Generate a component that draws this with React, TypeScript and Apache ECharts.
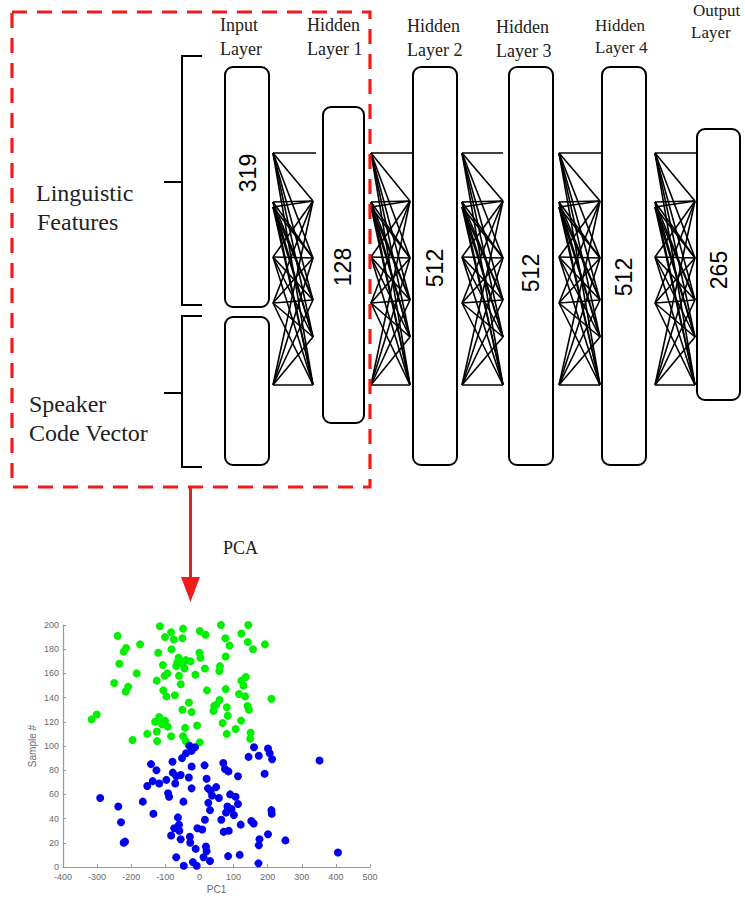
import React, { useEffect, useRef } from "react";
import * as echarts from "echarts";

// ---- Data ----
const layerTitles: string[][] = [
  ["Input", "Layer"],
  ["Hidden", "Layer 1"],
  ["Hidden", "Layer 2"],
  ["Hidden", "Layer 3"],
  ["Hidden", "Layer 4"],
  ["Output", "Layer"],
];
const layerSizes = ["319", "128", "512", "512", "512", "265"];
const inputGroups = [["Linguistic", "Features"], ["Speaker", "Code Vector"]];
const arrowLabel = "PCA";

const xTicks = { min: -400, max: 500, interval: 100 };
const yTicks = { min: 0, max: 200, interval: 20 };
const xName = "PC1";
const yName = "Sample #";

// speaker group 1 (green): [PC1, sample #]
const greenPoints: number[][] = [
  [-240, 191], [-116, 199], [-48, 197], [-83, 194], [-101, 190], [-75, 188], [-50, 189],
  [63, 200], [143, 200], [1, 195], [18, 192], [123, 193], [76, 189], [88, 183], [142, 186],
  [157, 180], [192, 184], [-215, 181], [-222, 178], [-174, 184], [-235, 168], [-184, 160],
  [-250, 152], [-209, 149], [-216, 145], [-82, 180], [-121, 177], [-61, 173], [0, 177],
  [3, 173], [-26, 170], [-65, 169], [-49, 168], [-44, 164], [-68, 166], [-107, 167],
  [16, 164], [60, 166], [58, 162], [77, 174], [-12, 159], [-94, 160], [-102, 158],
  [-125, 154], [-55, 151], [-106, 146], [-97, 141], [-72, 142], [22, 146], [77, 147],
  [123, 154], [136, 157], [129, 150], [116, 143], [134, 141], [211, 139], [-31, 136],
  [-50, 130], [-23, 128], [43, 133], [59, 138], [49, 134], [41, 129], [80, 132], [141, 133],
  [145, 130], [-316, 122], [-301, 126], [-118, 124], [-101, 121], [-130, 120], [-93, 116],
  [83, 125], [68, 119], [122, 121], [106, 114], [150, 111], [-7, 117], [-42, 115],
  [-125, 112], [-153, 110], [-83, 108], [-196, 105], [-124, 104], [-48, 108], [-40, 104],
  [1, 103], [-32, 101], [80, 110], [149, 106], [-110, 118], [-60, 158], [-40, 171],
];

// speaker group 2 (blue): [PC1, sample #]
const bluePoints: number[][] = [
  [-29, 100], [-13, 99], [-23, 96], [-39, 94], [-51, 90], [160, 99], [201, 98], [206, 94],
  [213, 89], [144, 91], [174, 92], [352, 88], [-142, 85], [-126, 80], [-79, 87], [15, 84],
  [70, 86], [75, 81], [85, 79], [113, 75], [-23, 83], [191, 77], [-78, 78], [-55, 76],
  [-31, 74], [-97, 72], [-68, 75], [-71, 69], [-118, 69], [-137, 71], [-153, 67], [-23, 65],
  [21, 73], [49, 66], [33, 63], [25, 65], [37, 59], [57, 57], [90, 60], [106, 58], [113, 52],
  [-92, 61], [-89, 58], [-166, 54], [-47, 54], [-291, 57], [-238, 50], [26, 53], [31, 47],
  [82, 50], [94, 48], [78, 45], [101, 43], [211, 47], [212, 44], [-135, 44], [64, 39],
  [16, 39], [-63, 41], [-230, 37], [152, 38], [159, 36], [121, 35], [-74, 32], [-59, 30],
  [-6, 32], [8, 31], [71, 29], [86, 30], [-83, 26], [-55, 23], [-28, 25], [-27, 20],
  [-222, 20], [-218, 21], [176, 23], [201, 27], [252, 22], [174, 18], [-11, 15], [19, 17],
  [21, 13], [31, 5], [12, 8], [-68, 8], [84, 9], [118, 10], [406, 12], [-46, 1], [-19, 4],
  [-8, 1], [173, 3], [-60, 35],
];

// ---- Diagram layout (positions/styles, not data) ----
const SERIF = "'Liberation Serif', 'Times New Roman', serif";
const SANS = "'Liberation Sans', Arial, sans-serif";
const boxLayout = [
  { x: 225, y: 67, w: 44, h: 240 },
  { x: 323, y: 107, w: 41, h: 316 },
  { x: 413, y: 67, w: 44, h: 398 },
  { x: 509, y: 67, w: 44, h: 398 },
  { x: 602, y: 67, w: 44, h: 398 },
  { x: 697, y: 129, w: 43, h: 271 },
];
const extraInputBox = { x: 225, y: 317, w: 44, h: 148 };
const sizeLabelPos = [
  [248, 173], [343, 267], [435, 268], [531, 273], [624, 277], [719, 270],
];
const titlePos = [
  [220, 25, 49], [307, 25, 49], [407, 26, 50], [496, 27, 51], [595, 25, 47], [693, 10, 32],
];
const titleSize = [18, 18, 18, 18, 17, 17];
const connGroups = [
  [273, 313, 316], [371, 410, 413], [462, 503, 503], [559, 600, 602], [655, 695, 697],
];
const leftNodes = [153, 202, 207, 257, 303, 385];
const rightNodes = [153, 201, 258, 300, 337, 385];

function buildGraphics() {
  const els: any[] = [];
  const black = "#000";
  // connections
  connGroups.forEach(([lx, rx, topEnd]) => {
    els.push({
      type: "line", z: 1,
      shape: { x1: lx, y1: leftNodes[0], x2: topEnd, y2: rightNodes[0] },
      style: { stroke: black, lineWidth: 1.6 },
    });
    leftNodes.forEach((ly) => {
      rightNodes.slice(1).forEach((ry) => {
        els.push({
          type: "line", z: 1,
          shape: { x1: lx, y1: ly, x2: rx, y2: ry },
          style: { stroke: black, lineWidth: 1.6 },
        });
      });
    });
  });
  // boxes
  const allBoxes = [...boxLayout, extraInputBox];
  allBoxes.forEach((b) => {
    els.push({
      type: "rect", z: 2,
      shape: { x: b.x, y: b.y, width: b.w, height: b.h, r: 8 },
      style: { fill: "#fff", stroke: black, lineWidth: 2 },
    });
  });
  // size labels (rotated)
  layerSizes.forEach((s, i) => {
    els.push({
      type: "text", z: 3,
      x: sizeLabelPos[i][0], y: sizeLabelPos[i][1], rotation: Math.PI / 2,
      style: {
        text: s, x: 0, y: 0, font: `23px ${SANS}`, fill: black,
        textAlign: "center", textVerticalAlign: "middle", align: "center", verticalAlign: "middle",
      },
    });
  });
  // layer titles
  layerTitles.forEach((t, i) => {
    const [x, y1, y2] = titlePos[i];
    [y1, y2].forEach((yy, k) => {
      els.push({
        type: "text", z: 3,
        style: {
          text: t[k], x: k === 1 && i === 5 ? x - 2 : x, y: yy, font: `${titleSize[i]}px ${SERIF}`, fill: "#222",
          textAlign: "left", textVerticalAlign: "middle", align: "left", verticalAlign: "middle",
        },
      });
    });
  });
  // brackets
  const brackets = [
    { top: 56, bottom: 305, mid: 182 },
    { top: 316, bottom: 467, mid: 393 },
  ];
  brackets.forEach((b) => {
    els.push({
      type: "polyline", z: 2,
      shape: { points: [[202, b.top], [182, b.top], [182, b.bottom], [202, b.bottom]] },
      style: { stroke: black, lineWidth: 2, fill: "none" },
    });
    els.push({
      type: "line", z: 2,
      shape: { x1: 164, y1: b.mid, x2: 182, y2: b.mid },
      style: { stroke: black, lineWidth: 2 },
    });
  });
  // group labels
  const groupPos = [[36, 193, 222], [29, 404, 433]];
  inputGroups.forEach((g, i) => {
    const [x, y1, y2] = groupPos[i];
    [y1, y2].forEach((yy, k) => {
      els.push({
        type: "text", z: 3,
        style: {
          text: g[k], x: x + (i === 0 && k === 1 ? 1 : 0), y: yy, font: `24px ${SERIF}`, fill: "#222",
          textAlign: "left", textVerticalAlign: "middle", align: "left", verticalAlign: "middle",
        },
      });
    });
  });
  // red dashed box
  els.push({
    type: "rect", z: 4,
    shape: { x: 12, y: 12, width: 358, height: 475 },
    style: { fill: "none", stroke: "#f21b1b", lineWidth: 3.2, lineDash: [15, 10] },
  });
  // arrow
  els.push({
    type: "line", z: 4,
    shape: { x1: 190.5, y1: 487, x2: 190.5, y2: 580 },
    style: { stroke: "#f21b1b", lineWidth: 3 },
  });
  els.push({
    type: "polygon", z: 4,
    shape: { points: [[181, 577], [200, 577], [190.5, 602]] },
    style: { fill: "#f21b1b" },
  });
  els.push({
    type: "text", z: 4,
    style: {
      text: arrowLabel, x: 223, y: 548, font: `18px ${SERIF}`, fill: "#222",
      textAlign: "left", textVerticalAlign: "middle", align: "left", verticalAlign: "middle",
    },
  });
  return els;
}

export default function App() {
  const ref = useRef<HTMLDivElement>(null);
  useEffect(() => {
    if (!ref.current) return;
    const chart = echarts.init(ref.current, null, { renderer: "svg" });
    const axisColor = "#9a9a9a";
    const labelColor = "#6a6a6a";
    chart.setOption({
      animation: false,
      backgroundColor: "#fff",
      grid: { left: 63, top: 625, width: 307, height: 242, containLabel: false },
      xAxis: {
        type: "value",
        min: xTicks.min, max: xTicks.max, interval: xTicks.interval,
        name: xName, nameLocation: "middle", nameGap: 17,
        nameTextStyle: { color: labelColor, fontSize: 10, fontFamily: SANS },
        axisLine: { show: true, onZero: false, lineStyle: { color: axisColor, width: 1.2 } },
        axisTick: { show: true, inside: true, length: 3, lineStyle: { color: axisColor } },
        axisLabel: { color: labelColor, fontSize: 9, fontFamily: SANS, margin: 5 },
        splitLine: { show: false },
      },
      yAxis: {
        type: "value",
        min: yTicks.min, max: yTicks.max, interval: yTicks.interval,
        name: yName, nameLocation: "middle", nameGap: 26, nameRotate: 90,
        nameTextStyle: { color: labelColor, fontSize: 10, fontFamily: SANS },
        axisLine: { show: true, onZero: false, lineStyle: { color: axisColor, width: 1.2 } },
        axisTick: { show: true, inside: true, length: 3, lineStyle: { color: axisColor } },
        axisLabel: { color: labelColor, fontSize: 9, fontFamily: SANS, margin: 4 },
        splitLine: { show: false },
      },
      series: [
        {
          type: "scatter", name: "green", data: greenPoints, symbolSize: 8,
          itemStyle: { color: "#00f000", opacity: 1 },
        },
        {
          type: "scatter", name: "blue", data: bluePoints, symbolSize: 8,
          itemStyle: { color: "#0000f0", opacity: 1 },
        },
      ],
      graphic: { elements: buildGraphics() },
    });
    return () => chart.dispose();
  }, []);
  return (
    <div
      ref={ref}
      style={{ position: "absolute", left: 0, top: 0, width: 745, height: 897 }}
    />
  );
}
